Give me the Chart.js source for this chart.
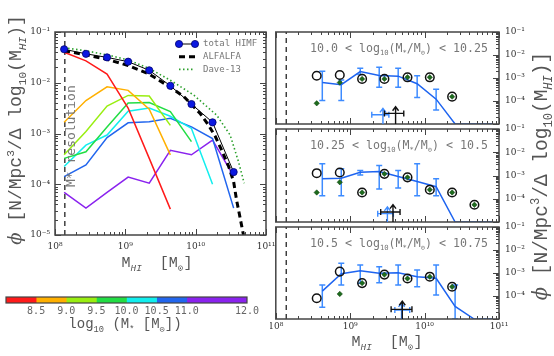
<!DOCTYPE html>
<html><head><meta charset="utf-8">
<script src="https://cdn.jsdelivr.net/npm/chart.js@4.4.0/dist/chart.umd.min.js"></script>
<style>
html,body{margin:0;padding:0;background:#fff;width:554px;height:356px;overflow:hidden;}
canvas{position:absolute;}
</style></head><body>
<canvas id="cL" style="left:0;top:0" width="280" height="280"></canvas>
<canvas id="cB" style="left:0;top:285px" width="270" height="60"></canvas>
<canvas id="c1" style="left:270px;top:0" width="284" height="130"></canvas>
<canvas id="c2" style="left:270px;top:0" width="284" height="356"></canvas>
<canvas id="c3" style="left:270px;top:220px" width="284" height="136"></canvas>
<script>
// ---------------- DATA (log10 values) ----------------
const xTicks = [1e8, 1e9, 1e10, 1e11];
const leftYTicks = [1e-5, 1e-4, 1e-3, 1e-2, 1e-1];
const rightYTicks = [1e-4, 1e-3, 1e-2, 1e-1];
const resolutionLogM = 8.14;

const binLogM = [8.13, 8.44, 8.74, 9.04, 9.34, 9.64, 9.94, 10.24, 10.54];
const himfLogPhi = [-1.34, -1.43, -1.50, -1.585, -1.755, -2.06, -2.42, -2.78, -3.76];
const alfalfaLogM = [8.13, 8.44, 8.74, 9.04, 9.34, 9.64, 9.83, 10.06, 10.18, 10.28, 10.37, 10.47, 10.54, 10.58, 10.63, 10.68];
const alfalfaLogPhi = [-1.37, -1.45, -1.54, -1.66, -1.83, -2.09, -2.27, -2.60, -2.83, -3.06, -3.33, -3.65, -3.95, -4.3, -4.65, -5.0];
const daveLogM = [8.13, 8.44, 8.74, 9.04, 9.34, 9.64, 9.97, 10.30, 10.49, 10.61, 10.69];
const daveLogPhi = [-1.31, -1.37, -1.45, -1.55, -1.72, -1.95, -2.24, -2.64, -3.03, -3.56, -3.98];

const massBinLabels = ['8.0-8.5', '8.5-9.0', '9.0-9.5', '9.5-10.0', '10.0-10.5', '10.5-11.0', '11.0-12.0'];
const massBinColors = ['#ff1a1a', '#ffb000', '#99ee11', '#22dd44', '#11eeee', '#2266ee', '#8a22ee'];
const redLogPhi = [-1.40, -1.57, -1.83, -2.50, -3.49, -4.49];
const orangeLogPhi = [-2.78, -2.35, -2.08, -2.15, -2.52, -3.42];
const limeLogPhi = [-3.42, -2.96, -2.46, -2.25, -2.26, -2.84];
const greenLogPhi = [-3.49, -3.36, -2.87, -2.40, -2.39, -2.57, -3.16];
const cyanLogPhi = [-3.65, -3.23, -3.03, -2.56, -2.50, -2.66, -2.90, -4.00];
const blueLogPhi = [-3.85, -3.62, -3.08, -2.79, -2.77, -2.70, -2.87, -3.10, -4.47];
const purpleLogPhi = [-4.16, -4.47, -4.16, -3.86, -3.98, -3.33, -3.42, -3.13, -3.84];
const massBinLogPhi = [redLogPhi, orangeLogPhi, limeLogPhi, greenLogPhi, cyanLogPhi, blueLogPhi, purpleLogPhi];

const cbEdges = [8.0, 8.5, 9.0, 9.5, 10.0, 10.5, 11.0, 12.0];
const cbTickVals = [8.5, 9.0, 9.5, 10.0, 10.5, 11.0, 12.0];

const panelRanges = [['10.0', '10.25'], ['10.25', '10.5'], ['10.5', '10.75']];
const obsLogM = [8.55, 8.86, 9.16, 9.46, 9.77, 10.07, 10.37, 10.67];
const p1CircleLogPhi = [-2.90, -2.87, -3.04, -3.04, -2.97, -2.97, -3.81];
const p1DiamondLogPhi = [-4.10, -3.20, -3.04, -3.04, -2.97, -2.97, -3.81];
const p2CircleLogPhi = [-2.90, -2.87, -3.73, -2.93, -3.08, -3.61, -3.73, -4.26];
const p2DiamondLogPhi = [-3.73, -3.29, -3.73, -2.93, -3.08, -3.61, -3.73, -4.26];
const p3CircleLogPhi = [-4.10, -2.94, -3.44, -3.07, -3.24, -3.16, -3.60];
const p3DiamondLogPhi = [null, -3.91, -3.44, -3.07, -3.24, -3.16, -3.60];

const simLogM = [8.625, 8.88, 9.135, 9.39, 9.645, 9.90, 10.155, 10.41, 10.665, 10.92];
const p1SimLogPhi = [-3.20, -3.29, -2.72, -2.89, -2.92, -3.25, -3.92, -5.0, -5.0, -5.0];
const p2SimLogPhi = [-3.14, -3.12, -2.86, -2.83, -3.04, -3.26, -3.48, -5.0, -5.0, -5.0];
const p3SimLogPhi = [-3.79, -3.03, -2.90, -3.01, -2.99, -3.16, -3.23, -4.45, -5.0, -5.0];
const p1ErrHi = [-2.71, -3.09, -2.58, -2.53, -2.58, -2.90, -3.49];
const p1ErrLo = [-3.98, -3.98, -2.85, -3.40, -3.40, -3.85, -4.39];
const p2ErrHi = [-2.49, -2.71, -2.78, -2.57, -2.78, -2.49, -3.14];
const p2ErrLo = [-3.87, -3.87, -2.98, -3.58, -3.54, -3.87, -3.87];
const p3ErrHi = [-3.52, -2.58, -2.65, -2.73, -2.65, -2.87, -2.65, -3.52];
const p3ErrLo = [-4.49, -3.52, -3.45, -3.42, -3.52, -3.60, -3.96, -5.0];

// arrows: [logM centre, logM low, logM high, logPhi of bar, logPhi of tip]
const p1BlackArrow = [9.61, 9.46, 9.72, -4.54, -4.25];
const p1BlueArrow = [9.44, 9.29, 9.52, -4.60, -4.32];
const p2BlackArrow = [9.575, 9.41, 9.67, -4.57, -4.25];
const p2BlueArrow = [9.50, 9.37, 9.58, -4.64, -4.35];
const p3BlackArrow = [9.70, 9.55, 9.83, -4.58, -4.23];
const p3BlueArrow = [9.69, 9.60, 9.80, -4.61, -4.30];

// ---------------- helpers ----------------
const P = v => Math.pow(10, v);
const pts = (xs, ys) => ys.map((y, i) => (y === null ? null : { x: P(xs[i]), y: P(y) })).filter(Boolean);
const SUP = { '-': '⁻', '0': '⁰', '1': '¹', '2': '²', '3': '³', '4': '⁴', '5': '⁵', '6': '⁶', '7': '⁷', '8': '⁸', '9': '⁹' };
const pow10Label = v => '10' + String(Math.round(Math.log10(v))).split('').map(c => SUP[c]).join('');
const MONO = "'DejaVu Sans Mono', monospace";
const TMONO = "'Liberation Mono', 'DejaVu Sans Mono', monospace";
const TICKFONT = { family: "'DejaVu Serif', serif", size: 9 };

function logTickList(min, max) {
  const out = [];
  const d0 = Math.floor(Math.log10(min) + 1e-9), d1 = Math.ceil(Math.log10(max) - 1e-9);
  for (let d = d0; d <= d1; d++) for (let k = 1; k <= 9; k++) {
    const v = k * Math.pow(10, d);
    if (v >= min * 0.9999 && v <= max * 1.0001) out.push({ v, major: k === 1 });
  }
  return out;
}

function drawRich(ctx, it) {
  const size = it.size, fam = it.family || TMONO;
  const fontFor = p => {
    const s = (p[1] === 'sub' || p[1] === 'sup') ? size * 0.62 : size;
    const style = (p[2] === 'italic' || p[2] === 'serifItalic') ? 'italic ' : '';
    const f = (p[2] === 'serifItalic' || p[2] === 'serif') ? "'DejaVu Serif', serif" : fam;
    return style + s.toFixed(1) + 'px ' + f;
  };
  ctx.save();
  ctx.translate(it.x, it.y);
  ctx.rotate(it.rot || 0);
  ctx.fillStyle = it.color;
  ctx.textBaseline = 'alphabetic';
  ctx.textAlign = 'left';
  let w = 0;
  const widths = it.parts.map(p => { ctx.font = fontFor(p); const m = ctx.measureText(p[0]).width; w += m; return m; });
  let cx = it.align === 'start' ? 0 : -w / 2;
  const base = size * 0.35;
  it.parts.forEach((p, i) => {
    ctx.font = fontFor(p);
    const dy = p[1] === 'sub' ? size * 0.28 : (p[1] === 'sup' ? -size * 0.42 : 0);
    ctx.fillText(p[0], cx, base + dy);
    cx += widths[i];
  });
  ctx.restore();
}

// ---------------- plugins ----------------
const frameTicks = {
  id: 'frameTicks',
  afterDatasetsDraw(chart, args, o) {
    const { ctx, chartArea: a } = chart;
    const xs = chart.scales.x, ys = chart.scales.y;
    ctx.save();
    ctx.strokeStyle = o.color || '#444';
    ctx.lineWidth = 1;
    ctx.beginPath();
    if (o.xLog) {
      logTickList(xs.min, xs.max).forEach(t => {
        const px = Math.round(xs.getPixelForValue(t.v)) + 0.5, L = t.major ? 6 : 3;
        if (o.bottom) { ctx.moveTo(px, a.bottom); ctx.lineTo(px, a.bottom - L); }
        if (o.top) { ctx.moveTo(px, a.top); ctx.lineTo(px, a.top + L); }
      });
    }
    if (o.yLog) {
      logTickList(ys.min, ys.max).forEach(t => {
        const py = Math.round(ys.getPixelForValue(t.v)) + 0.5, L = t.major ? 6 : 3;
        if (o.left) { ctx.moveTo(a.left, py); ctx.lineTo(a.left + L, py); }
        if (o.right) { ctx.moveTo(a.right, py); ctx.lineTo(a.right - L, py); }
      });
    }
    ctx.stroke();
    ctx.lineWidth = o.frameWidth || 1.5;
    ctx.strokeRect(a.left, a.top, a.right - a.left, a.bottom - a.top);
    ctx.restore();
  }
};

const errorBars = {
  id: 'errorBars',
  beforeDatasetsDraw(chart) {
    const { ctx, chartArea: a } = chart;
    const xs = chart.scales.x, ys = chart.scales.y;
    ctx.save();
    ctx.beginPath(); ctx.rect(a.left, a.top, a.right - a.left, a.bottom - a.top); ctx.clip();
    chart.data.datasets.forEach(ds => {
      if (!ds.errHi) return;
      ctx.strokeStyle = ds.errColor; ctx.lineWidth = 1.5;
      ds.errHi.forEach((hi, i) => {
        const lo = ds.errLo[i];
        const px = xs.getPixelForValue(P(ds.errLogM[i]));
        const y1 = ys.getPixelForValue(P(hi)), y2 = ys.getPixelForValue(P(lo));
        ctx.beginPath();
        ctx.moveTo(px, y1); ctx.lineTo(px, y2);
        ctx.moveTo(px - 3, y1); ctx.lineTo(px + 3, y1);
        ctx.moveTo(px - 3, y2); ctx.lineTo(px + 3, y2);
        ctx.stroke();
      });
    });
    ctx.restore();
  }
};

const arrows = {
  id: 'arrows',
  afterDatasetsDraw(chart, args, o) {
    const { ctx, chartArea: a } = chart;
    const xs = chart.scales.x, ys = chart.scales.y;
    (o.items || []).forEach(it => {
      const [c, lo, hi, yb, tip] = it.v;
      const px = xs.getPixelForValue(P(c)), pl = xs.getPixelForValue(P(lo)), ph = xs.getPixelForValue(P(hi));
      const py = ys.getPixelForValue(P(yb)), pt = ys.getPixelForValue(P(tip));
      ctx.save();
      ctx.strokeStyle = it.color; ctx.lineWidth = 1.4;
      ctx.beginPath();
      ctx.moveTo(px, a.bottom); ctx.lineTo(px, pt);
      ctx.moveTo(px - 3, pt + 4); ctx.lineTo(px, pt); ctx.lineTo(px + 3, pt + 4);
      ctx.moveTo(pl, py); ctx.lineTo(ph, py);
      ctx.moveTo(pl, py - 3); ctx.lineTo(pl, py + 3);
      ctx.moveTo(ph, py - 3); ctx.lineTo(ph, py + 3);
      ctx.stroke();
      ctx.restore();
    });
  }
};

const richText = {
  id: 'richText',
  afterDraw(chart, args, o) { (o.items || []).forEach(it => drawRich(chart.ctx, it)); }
};

const miniLegend = {
  id: 'miniLegend',
  afterDraw(chart, args, o) {
    if (!o.entries) return;
    const ctx = chart.ctx;
    o.entries.forEach((idx, i) => {
      const ds = chart.data.datasets[idx];
      const y = o.y0 + i * o.dy;
      ctx.save();
      ctx.strokeStyle = ds.borderColor; ctx.lineWidth = ds.borderWidth;
      ctx.setLineDash(ds.borderDash || []);
      ctx.beginPath(); ctx.moveTo(o.x0, y); ctx.lineTo(o.x1, y); ctx.stroke();
      ctx.setLineDash([]);
      if (ds.pointRadius) {
        [o.x0, o.x1].forEach(px => {
          ctx.beginPath(); ctx.arc(px, y, ds.pointRadius, 0, 2 * Math.PI);
          ctx.fillStyle = ds.pointBackgroundColor; ctx.fill();
          ctx.lineWidth = ds.pointBorderWidth; ctx.strokeStyle = ds.pointBorderColor; ctx.stroke();
        });
      }
      ctx.fillStyle = o.color; ctx.font = o.font; ctx.textBaseline = 'middle'; ctx.textAlign = 'left';
      ctx.fillText(ds.label, o.textX, y);
      ctx.restore();
    });
  }
};

const PLUGINS = [errorBars, frameTicks, arrows, richText, miniLegend];
const zeroPad = s => { s.paddingLeft = 0; s.paddingRight = 0; s.paddingTop = 0; s.paddingBottom = 0; };

const phiTitleParts = [['ϕ', 'n', 'serifItalic'], [' [N/Mpc', 'n'], ['3', 'sup'], ['/Δ log', 'n'], ['10', 'sub'], ['(M', 'n'], ['HI', 'sub', 'italic'], [')]', 'n']];
const mhiTitleParts = [['M', 'n'], ['HI', 'sub', 'italic'], ['  [M', 'n'], ['⊙', 'sub'], [']', 'n']];

// ---------------- left panel ----------------
const leftDatasets = [
  { label: 'total HIMF', data: pts(binLogM, himfLogPhi), showLine: true, borderColor: '#000', borderWidth: 1,
    pointRadius: 3.6, pointBackgroundColor: '#0b18e0', pointBorderColor: '#000070', pointBorderWidth: 0.8, order: 0 },
  { label: 'ALFALFA', data: pts(alfalfaLogM, alfalfaLogPhi), showLine: true, borderColor: '#000', borderWidth: 3,
    borderDash: [6, 4], pointRadius: 0, order: 1 },
  { label: 'Dave-13', data: pts(daveLogM, daveLogPhi), showLine: true, borderColor: '#2ca02c', borderWidth: 1.6,
    borderDash: [1.5, 2.5], pointRadius: 0, order: 2 }
];
massBinLogPhi.forEach((arr, i) => leftDatasets.push({
  label: massBinLabels[i], data: pts(binLogM, arr), showLine: true, borderColor: massBinColors[i],
  borderWidth: 1.5, pointRadius: 0, order: 3 + i
}));
leftDatasets.push({ label: 'resolution', data: [{ x: P(resolutionLogM), y: 1e-5 }, { x: P(resolutionLogM), y: 1e-1 }],
  showLine: true, borderColor: '#111', borderWidth: 1.2, borderDash: [5, 4], pointRadius: 0, order: 11 });

new Chart(document.getElementById('cL'), {
  type: 'scatter',
  data: { datasets: leftDatasets },
  plugins: PLUGINS,
  options: {
    responsive: false, animation: false, events: [],
    layout: { padding: { left: 0, top: 32, right: 14, bottom: 0 } },
    plugins: {
      legend: { display: false }, tooltip: { enabled: false },
      frameTicks: { xLog: true, yLog: true, top: true, bottom: true, left: true, right: true, color: '#444' },
      miniLegend: { entries: [0, 1, 2], x0: 179, x1: 195, textX: 203, y0: 44, dy: 12.7, font: '9px ' + MONO, color: '#777' },
      richText: { items: [
        { parts: phiTitleParts, x: 15, y: 130, rot: -Math.PI / 2, size: 18, color: '#555' },
        { parts: mhiTitleParts, x: 157, y: 262, size: 15, color: '#555' },
        { parts: [['M*', 'n'], [' resolution', 'n']], x: 70, y: 187, rot: -Math.PI / 2, size: 13, color: '#777', align: 'start', family: MONO }
      ] }
    },
    scales: {
      x: { type: 'logarithmic', min: 1e8, max: 1e11,
        grid: { display: false, drawTicks: false }, border: { display: false },
        afterBuildTicks: s => { s.ticks = xTicks.map(v => ({ value: v })); },
        ticks: { callback: v => pow10Label(v), font: TICKFONT, color: '#333', padding: 6, autoSkip: false, maxRotation: 0 },
        afterFit: s => { s.height = 45; zeroPad(s); } },
      y: { type: 'logarithmic', min: 1e-5, max: 1e-1,
        grid: { display: false, drawTicks: false }, border: { display: false },
        afterBuildTicks: s => { s.ticks = leftYTicks.map(v => ({ value: v })); },
        ticks: { callback: v => pow10Label(v), font: TICKFONT, color: '#333', padding: 5, autoSkip: false },
        afterFit: s => { s.width = 55; zeroPad(s); } }
    }
  }
});

// ---------------- colour bar ----------------
new Chart(document.getElementById('cB'), {
  type: 'bar',
  data: { labels: ['log M*'], datasets: massBinColors.map((c, i) => ({
    label: massBinLabels[i], data: [[cbEdges[i], cbEdges[i + 1]]], backgroundColor: c, borderWidth: 0,
    barPercentage: 1, categoryPercentage: 1, grouped: false })) },
  plugins: PLUGINS,
  options: {
    indexAxis: 'y', responsive: false, animation: false, events: [],
    layout: { padding: { left: 6, right: 23, top: 12, bottom: 0 } },
    plugins: {
      legend: { display: false }, tooltip: { enabled: false },
      frameTicks: { xLog: false, yLog: false, color: '#444', frameWidth: 1.2 },
      richText: { items: [
        { parts: [['log', 'n'], ['10', 'sub'], [' (M', 'n'], ['*', 'sub'], [' [M', 'n'], ['⊙', 'sub'], ['])', 'n']], x: 125, y: 38, size: 14, color: '#555' }
      ] }
    },
    scales: {
      x: { type: 'linear', min: 8, max: 12,
        grid: { display: false, drawTicks: false }, border: { display: false },
        afterBuildTicks: s => { s.ticks = cbTickVals.map(v => ({ value: v })); },
        ticks: { callback: v => Number(v).toFixed(1), font: { family: MONO, size: 10 }, color: '#666', padding: 2, autoSkip: false, maxRotation: 0 },
        afterFit: s => { s.height = 42; zeroPad(s); } },
      y: { display: false }
    }
  }
});

// ---------------- right panels ----------------
function makePanel(id, c) {
  const rangeText = [[c.range[0] + ' < log', 'n'], ['10', 'sub'], ['(M', 'n'], ['*', 'sub'], ['/M', 'n'], ['⊙', 'sub'], [') < ' + c.range[1], 'n']];
  const texts = [{ parts: rangeText, x: 129, y: c.top + 16, size: 11.6, color: '#777', family: MONO }].concat(c.extraText || []);
  return new Chart(document.getElementById(id), {
    type: 'scatter',
    data: { datasets: [
      { label: 'simulation', data: pts(simLogM, c.sim), showLine: true, borderColor: '#1e64f0', borderWidth: 1.5, pointRadius: 0, order: 3,
        errLogM: simLogM, errHi: c.errHi, errLo: c.errLo, errColor: '#3d8bff' },
      { label: 'observed (all)', data: pts(obsLogM, c.circ), pointStyle: 'circle', pointRadius: 4.3,
        pointBackgroundColor: 'rgba(0,0,0,0)', pointBorderColor: '#111', pointBorderWidth: 1.5, order: 2 },
      { label: 'observed', data: pts(obsLogM, c.diam), pointStyle: 'rectRot', pointRadius: 2.7,
        pointBackgroundColor: '#1d6b1d', pointBorderColor: '#0d3d0d', pointBorderWidth: 0.5, order: 1 },
      { label: 'resolution', data: [{ x: P(resolutionLogM), y: 1e-5 }, { x: P(resolutionLogM), y: 1e-1 }],
        showLine: true, borderColor: '#111', borderWidth: 1.2, borderDash: [5, 4], pointRadius: 0, order: 4 }
    ] },
    plugins: PLUGINS,
    options: {
      responsive: false, animation: false, events: [],
      layout: { padding: { left: 5, right: 15, top: c.top, bottom: 0 } },
      plugins: {
        legend: { display: false }, tooltip: { enabled: false },
        frameTicks: { xLog: true, yLog: true, top: true, bottom: true, left: false, right: true, color: '#444' },
        arrows: { items: [{ v: c.blueArrow, color: '#3d8bff' }, { v: c.blackArrow, color: '#111' }] },
        richText: { items: texts }
      },
      scales: {
        x: { type: 'logarithmic', min: 1e8, max: 1e11,
          grid: { display: false, drawTicks: false }, border: { display: false },
          afterBuildTicks: s => { s.ticks = xTicks.map(v => ({ value: v })); },
          ticks: { display: c.showX, callback: v => pow10Label(v), font: TICKFONT, color: '#333', padding: 2, autoSkip: false, maxRotation: 0 },
          afterFit: s => { s.height = c.xh; zeroPad(s); } },
        y: { type: 'logarithmic', position: 'right', min: 1e-5, max: 1e-1,
          grid: { display: false, drawTicks: false }, border: { display: false },
          afterBuildTicks: s => { s.ticks = rightYTicks.map(v => ({ value: v })); },
          ticks: { callback: v => pow10Label(v), font: TICKFONT, color: '#333', padding: 6, autoSkip: false },
          afterFit: s => { s.width = 40; zeroPad(s); } }
      }
    }
  });
}

makePanel('c1', { range: panelRanges[0], top: 32, xh: 6, showX: false, sim: p1SimLogPhi, errHi: p1ErrHi, errLo: p1ErrLo,
  circ: p1CircleLogPhi, diam: p1DiamondLogPhi, blackArrow: p1BlackArrow, blueArrow: p1BlueArrow });
makePanel('c2', { range: panelRanges[1], top: 129, xh: 134, showX: false, sim: p2SimLogPhi, errHi: p2ErrHi, errLo: p2ErrLo,
  circ: p2CircleLogPhi, diam: p2DiamondLogPhi, blackArrow: p2BlackArrow, blueArrow: p2BlueArrow,
  extraText: [{ parts: phiTitleParts, x: 270, y: 176, rot: -Math.PI / 2, size: 19.5, color: '#555' }] });
makePanel('c3', { range: panelRanges[2], top: 7, xh: 37, showX: true, sim: p3SimLogPhi, errHi: p3ErrHi, errLo: p3ErrLo,
  circ: p3CircleLogPhi, diam: p3DiamondLogPhi, blackArrow: p3BlackArrow, blueArrow: p3BlueArrow,
  extraText: [{ parts: mhiTitleParts, x: 117, y: 121, size: 15, color: '#555' }] });
</script>
</body></html>
